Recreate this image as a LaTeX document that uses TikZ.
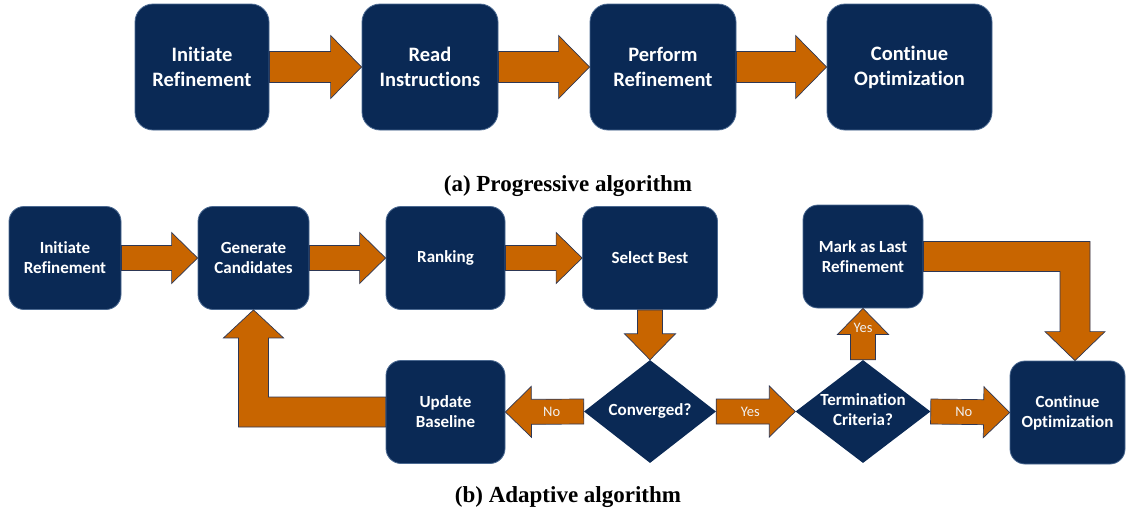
\documentclass[tikz,border=0pt]{standalone}
\usepackage{fontspec}
\setmainfont{Liberation Serif}
\setsansfont{Carlito}[Ligatures=NoCommon]
\usetikzlibrary{calc,shapes.geometric}

\definecolor{navy}{RGB}{10,41,85}
\definecolor{navyline}{RGB}{75,105,145}
\definecolor{flowfill}{RGB}{200,101,0}
\definecolor{flowline}{RGB}{45,55,85}

\newcommand{\bodyw}{12.5pt}
\newcommand{\headw}{25.5pt}
\newcommand{\headl}{26pt}
% block arrow between two anchors
\newcommand{\flowarrow}[2]{%
  \coordinate (fa) at ($(#2)!\headl!(#1)$);
  \filldraw[flow] ($(#1)!\bodyw!90:(#2)$) -- ($(fa)!\bodyw!90:(#2)$)
    -- ($(fa)!\headw!90:(#2)$) -- (#2) -- ($(fa)!\headw!-90:(#2)$)
    -- ($(fa)!\bodyw!-90:(#2)$) -- ($(#1)!\bodyw!-90:(#2)$) -- cycle;}
\newcommand{\dtext}[1]{\makebox[0pt]{\begin{tabular}{@{}c@{}}#1\end{tabular}}}

\begin{document}
\begin{tikzpicture}[x=1pt,y=-1pt]
    \tikzstyle{procbox}=[draw=navyline,line width=0.8pt,fill=navy,text=white,
      rounded corners=15pt,align=center,inner sep=2pt,minimum height=103pt,
      font=\sffamily\bfseries\fontsize{17}{20}\selectfont];
    \tikzstyle{bigproc}=[procbox,rounded corners=18pt,minimum height=126pt,
      font=\sffamily\bfseries\fontsize{20.5}{25}\selectfont];
    \tikzstyle{decision}=[diamond,fill=navy,text=white,inner sep=0pt,minimum height=103pt,
      font=\sffamily\bfseries\fontsize{17}{20}\selectfont];
    \tikzstyle{flow}=[fill=flowfill,draw=flowline,line width=0.7pt];
    \tikzstyle{tag}=[text=white!94!black,inner sep=0pt,font=\sffamily\fontsize{14.5}{17}\selectfont];
    \tikzstyle{caption}=[inner sep=0pt,font=\bfseries\fontsize{23}{27}\selectfont];
    \useasboundingbox (0,0) rectangle (1127,512);
    % (a) progressive
    \node[bigproc,minimum width=134pt] (init1) at (202,67) {Initiate\\Refinement};
    \node[bigproc,minimum width=136pt] (read) at (430,67) {Read\\Instructions};
    \node[bigproc,minimum width=146pt] (perform) at (663,67) {Perform\\Refinement};
    \node[bigproc,minimum width=165pt] (cont1) at (909.5,67) {Continue\\Optimization};
    \node[caption] (capa) at (568,186) {(a) Progressive algorithm};
    % (b) adaptive
    \node[procbox,minimum width=112pt] (init2) at (65,258) {Initiate\\Refinement};
    \node[procbox,minimum width=111pt] (gen) at (253.5,258) {Generate\\Candidates};
    \node[procbox,minimum width=119pt] (rank) at (445.5,258) {Ranking};
    \node[procbox,minimum width=135pt] (best) at (650,258) {Select Best};
    \node[procbox,minimum width=120pt] (mark) at (863,256.5) {Mark as Last\\Refinement};
    \node[procbox,minimum width=119pt] (upd) at (445.5,412) {Update\\Baseline};
    \node[decision,minimum width=132pt] (conv) at (650,411.5) {\dtext{Converged?}};
    \node[decision,minimum width=135pt] (term) at (863,411.5) {\dtext{Termination\\Criteria?}};
    \node[procbox,minimum width=115pt] (cont2) at (1067.5,412.5) {Continue\\Optimization};
    \node[caption] (capb) at (568,497) {(b) Adaptive algorithm};
    \coordinate (drop) at ($(cont2.north)+(7.5,0)$);

    \begin{scope}
      \renewcommand{\bodyw}{15.5pt}\renewcommand{\headw}{31.5pt}\renewcommand{\headl}{31pt}
      \flowarrow{init1.east}{read.west}
      \flowarrow{read.east}{perform.west}
      \flowarrow{perform.east}{cont1.west}
    \end{scope}
    \flowarrow{init2.east}{gen.west}
    \flowarrow{gen.east}{rank.west}
    \flowarrow{rank.east}{best.west}
    \flowarrow{best.south}{conv.north}
    \flowarrow{conv.west}{upd.east}
    \flowarrow{conv.east}{term.west}
    \flowarrow{term.north}{mark.south}
    \flowarrow{term.east}{cont2.west}
    \filldraw[flow] ($(upd.west)+(0,-15)$) -- ($(gen.south |- upd.west)+(15,-15)$)
      -- ($(gen.south)+(15,28)$) -- ($(gen.south)+(30,28)$) -- (gen.south)
      -- ($(gen.south)+(-30,28)$) -- ($(gen.south)+(-15,28)$)
      -- ($(gen.south |- upd.west)+(-15,15)$) -- ($(upd.west)+(0,15)$) -- cycle;
    \filldraw[flow] ($(mark.east)+(0,-15)$) -- ($(drop |- mark.east)+(15,-15)$)
      -- ($(drop)+(15,-29)$) -- ($(drop)+(30,-29)$) -- (drop)
      -- ($(drop)+(-30,-29)$) -- ($(drop)+(-15,-29)$)
      -- ($(drop |- mark.east)+(-15,15)$) -- ($(mark.east)+(0,15)$) -- cycle;
    \node[tag] (no1) at ($(conv.west)!0.41!(upd.east)$) {No};
    \node[tag] (yes1) at ($(conv.east)!0.43!(term.west)$) {Yes};
    \node[tag] (yes2) at ($(term.north)!0.62!(mark.south)$) {Yes};
    \node[tag] (no2) at ($(term.east)!0.42!(cont2.west)$) {No};
\end{tikzpicture}
\end{document}
